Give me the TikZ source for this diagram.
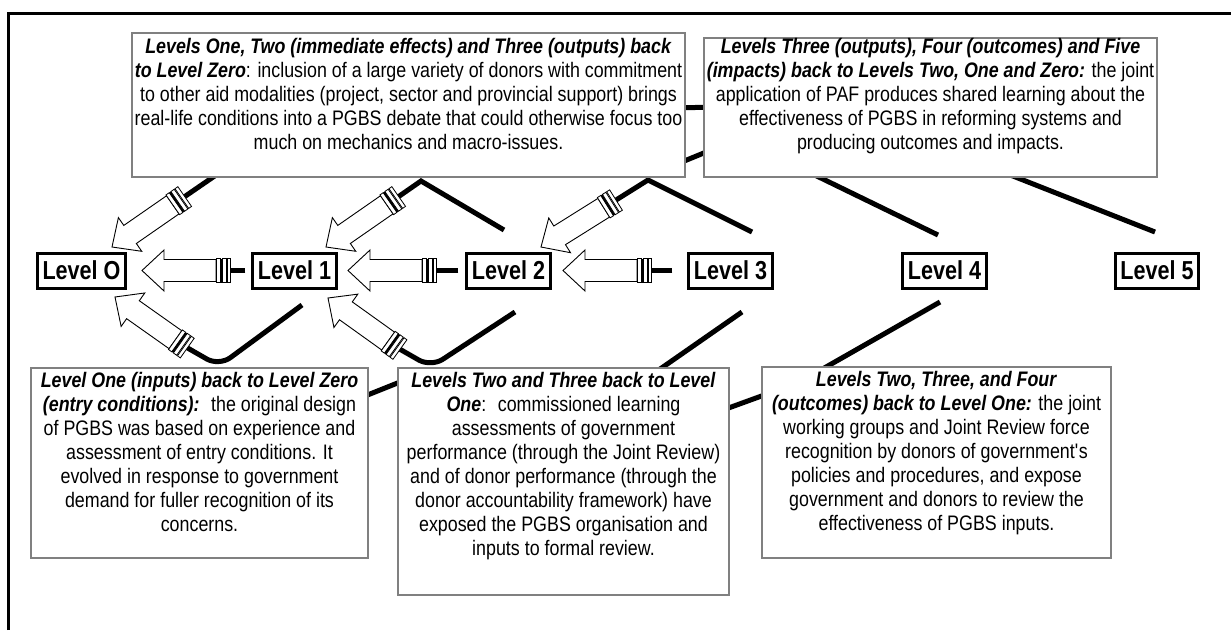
\documentclass[tikz,border=0pt]{standalone}
\usepackage{fontspec}
\setmainfont{Liberation Sans}[FakeStretch=0.85]
\newfontfamily\lvlfont{Liberation Sans}[FakeStretch=0.83]
\usetikzlibrary{calc}
\pgfdeclarelayer{bg}
\pgfsetlayers{bg,main}
\definecolor{boxgray}{RGB}{128,128,128}
\newcommand{\bfit}[1]{\textbf{\textit{#1}}}
\tikzset{
  syringe/.pic={
    \draw[arr] (0,0) -- (22,-20.5) -- (22,-11) -- (74,-11) -- (74,11) -- (22,11) -- (22,20.5) -- cycle;
    \draw[bar] (74,-12) rectangle (78,12);
    \fill[black] (78,-12) rectangle (80,12);
    \draw[bar] (80,-12) rectangle (84,12);
    \draw[bar] (85,-12) rectangle (88.5,12);
  }
}
\begin{document}
\begin{tikzpicture}[x=1pt,y=-1pt,
  lvl/.style={draw, line width=3pt, font=\lvlfont\fontsize{26}{30}\selectfont\bfseries, inner xsep=5pt, inner ysep=0pt, minimum height=35pt, fill=white},
  tbox/.style={draw=boxgray, line width=2.5pt, fill=white, inner sep=0pt},
  ttext/.style={anchor=north, align=center, inner sep=0pt, font=\fontsize{21}{24}\selectfont},
  blk/.style={line width=5pt, draw=black},
  arr/.style={draw=black, fill=white, line width=0.9pt, line join=miter},
  bar/.style={draw=black, fill=white, line width=0.8pt},
]
\useasboundingbox (0,0) rectangle (1231,630);
% frame
\draw[line width=3pt] (8,630) -- (8,13) -- (1231,13);

% level nodes
\node[lvl] (L0) at (81.5,270.5) {Level O};
\node[lvl] (L1) at (294.5,270.5) {Level 1};
\node[lvl] (L2) at (508.5,270.5) {Level 2};
\node[lvl] (L3) at (730.5,270.5) {Level 3};
\node[lvl] (L4) at (944.5,270.5) {Level 4};
\node[lvl] (L5) at (1157,270.5) {Level 5};

% text boxes
\node[tbox, minimum width=553pt, minimum height=144pt] (tlbox) at (408.5,105) {};
\node[ttext] (tltext) at (408.5,38) {\bfit{Levels One, Two (immediate effects) and Three (outputs) back}\\
\bfit{to Level Zero}: inclusion of a large variety of donors with commitment\\
to other aid modalities (project, sector and provincial support) brings\\
real-life conditions into a PGBS debate that could otherwise focus too\\
much on mechanics and macro-issues.};

\node[tbox, minimum width=453pt, minimum height=139pt] (trbox) at (930.5,107.5) {};
\node[ttext] (trtext) at (930.5,38) {\bfit{Levels Three (outputs), Four (outcomes) and Five}\\
\bfit{(impacts) back to Levels Two, One and Zero:} the joint\\
application of PAF produces shared learning about the\\
effectiveness of PGBS in reforming systems and\\
producing outcomes and impacts.};

\node[tbox, minimum width=337pt, minimum height=190pt] (blbox) at (199.5,463) {};
\node[ttext] (bltext) at (199.5,372) {\bfit{Level One (inputs) back to Level Zero}\\
\bfit{(entry conditions):} \ the original design\\
of PGBS was based on experience and\\
assessment of entry conditions. It\\
evolved in response to government\\
demand for fuller recognition of its\\
concerns.};

\node[tbox, minimum width=331pt, minimum height=227pt] (bmbox) at (563.5,481.5) {};
\node[ttext] (bmtext) at (563.5,372) {\bfit{Levels Two and Three back to Level}\\
\bfit{One}: \ commissioned learning\\
assessments of government\\
performance (through the Joint Review)\\
and of donor performance (through the\\
donor accountability framework) have\\
exposed the PGBS organisation and\\
inputs to formal review.};

\node[tbox, minimum width=349pt, minimum height=191pt] (brbox) at (936.5,462.5) {};
\node[ttext] (brtext) at (936.5,371) {\bfit{Levels Two, Three, and Four}\\
\bfit{(outcomes) back to Level One:} the joint\\
working groups and Joint Review force\\
recognition by donors of government\textquotesingle s\\
policies and procedures, and expose\\
government and donors to review the\\
effectiveness of PGBS inputs.};

% connector coordinates
\coordinate (t1) at (112,247); \coordinate (p1) at (210,179); \coordinate (q1) at (235,162);
\coordinate (t2) at (326,247); \coordinate (p2) at (421,181); \coordinate (q2) at (504,230);
\coordinate (t3) at (541,247); \coordinate (p3) at (648,180); \coordinate (q3) at (752,232);
\coordinate (t4) at (115,297); \coordinate (d4) at (190,350); \coordinate (u4) at (219,366); \coordinate (q4) at (302,305);
\coordinate (t5) at (328,298); \coordinate (d5) at (402,351); \coordinate (u5) at (431,367); \coordinate (q5) at (515,312);
\coordinate (h1) at (142,270.5); \coordinate (h2) at (348,270.5); \coordinate (h3) at (563,270.5);

\begin{pgfonlayer}{bg}
\draw[blk] ($(t1)!86pt!(p1)$) -- (q1);
\draw[blk, line join=miter] ($(t2)!86pt!(p2)$) -- (p2) -- (q2);
\draw[blk, line join=miter] ($(t3)!86pt!(p3)$) -- (p3) -- (q3);
\draw[blk, rounded corners=14pt] ($(t4)!86pt!(d4)$) -- (u4) -- (q4);
\draw[blk, rounded corners=14pt] ($(t5)!86pt!(d5)$) -- (u5) -- (q5);
\draw[blk] ([xshift=-6pt]L1.west) -- ($(h1)+(86,0)$);
\draw[blk] ([xshift=-7pt]L2.west) -- ($(h2)+(86,0)$);
\draw[blk] ([xshift=-15pt]L3.west) -- ($(h3)+(86,0)$);
% lines from levels into boxes
\draw[blk] (742,312) -- (640,383);
\draw[blk] (940,302) -- (805,379);
\draw[blk] (938,235) -- (790,163);
\draw[blk] (1155,232) -- (990,167);
% segments seen in gaps between boxes
\draw[blk] (675,108) -- (715,107);
\draw[blk] (672,166) -- (716,148);
\draw[blk] (350,402) -- (415,376);
\draw[blk] (712,414) -- (778,390);
\end{pgfonlayer}

% syringe arrows
\path let \p1=($(p1)-(t1)$), \n1={atan2(\y1,\x1)} in (t1) pic[rotate=\n1]{syringe};
\path let \p1=($(p2)-(t2)$), \n1={atan2(\y1,\x1)} in (t2) pic[rotate=\n1]{syringe};
\path let \p1=($(p3)-(t3)$), \n1={atan2(\y1,\x1)} in (t3) pic[rotate=\n1]{syringe};
\path let \p1=($(d4)-(t4)$), \n1={atan2(\y1,\x1)} in (t4) pic[rotate=\n1]{syringe};
\path let \p1=($(d5)-(t5)$), \n1={atan2(\y1,\x1)} in (t5) pic[rotate=\n1]{syringe};
\path (h1) pic{syringe};
\path (h2) pic{syringe};
\path (h3) pic{syringe};
\end{tikzpicture}
\end{document}
